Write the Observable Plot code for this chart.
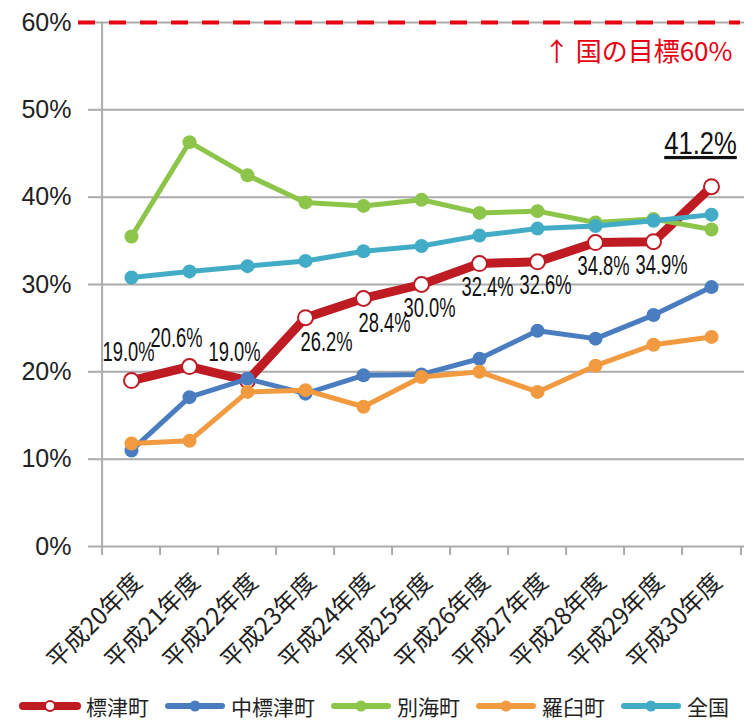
<!DOCTYPE html>
<html>
<head>
<meta charset="utf-8">
<script src="https://cdn.jsdelivr.net/npm/d3@7"></script>
<script src="https://cdn.jsdelivr.net/npm/@observablehq/plot@0.6"></script>
<style>
  html, body { margin: 0; padding: 0; background: #fff; }
  #chart { width: 756px; }
  .legend { display: flex; align-items: center; height: 28px; padding-left: 19px; gap: 15px;
    font-family: "Noto Sans CJK JP", sans-serif; font-size: 21px; color: #222; line-height: 1; }
  .legend .item { display: flex; align-items: center; gap: 5px; }
  .legend svg { display: block; }
</style>
</head>
<body>
<div id="chart"></div>
<script>
// ---- data ----
const years = ["平成20年度","平成21年度","平成22年度","平成23年度","平成24年度","平成25年度","平成26年度","平成27年度","平成28年度","平成29年度","平成30年度"];
const seriesNames = ["標津町","中標津町","別海町","羅臼町","全国"];
const shibetsu     = [19.0, 20.6, 19.0, 26.2, 28.4, 30.0, 32.4, 32.6, 34.8, 34.9, 41.2];
const nakashibetsu = [11.0, 17.1, 19.2, 17.5, 19.6, 19.7, 21.5, 24.7, 23.8, 26.5, 29.7];
const betsukai     = [35.5, 46.3, 42.5, 39.4, 39.0, 39.7, 38.2, 38.4, 37.1, 37.5, 36.3];
const rausu        = [11.8, 12.1, 17.7, 17.9, 16.0, 19.4, 20.0, 17.7, 20.7, 23.1, 24.0];
const zenkoku      = [30.8, 31.5, 32.1, 32.7, 33.8, 34.4, 35.6, 36.4, 36.7, 37.3, 38.0];
const yTicks = [0, 10, 20, 30, 40, 50, 60];
const targetValue = [60];
const targetLabel = ["↑ 国の目標60%"];

// ---- styles ----
const colors = ["#BE1B23", "#4A7DC0", "#8DC54B", "#F29A3F", "#42ABC6"];
const seriesValues = [shibetsu, nakashibetsu, betsukai, rausu, zenkoku];
const W = 756, H = 692, mL = 97, mR = 12, mT = 22, mB = 146;
const step = (W - mL - mR) / years.length;
const grid = "#ababab";
const labelFont = "'Liberation Sans',sans-serif";

const tidy = seriesValues.map((vals, s) => vals.map((v, i) => ({series: seriesNames[s], year: years[i], value: v, i})));

const marks = [
  Plot.gridY(yTicks, {stroke: grid, strokeOpacity: 1, strokeWidth: 2}),
  Plot.axisY(yTicks, {tickSize: 9, tickPadding: 17, tickFormat: d => d + "%", fontSize: 25, stroke: grid, strokeWidth: 2, fill: "#222", label: null}),
  Plot.ruleX([years[0]], {y1: 0, y2: 60, dx: -step / 2, stroke: grid, strokeWidth: 2}),
  Plot.axisX(years, {tickSize: 9, tickFormat: () => "", dx: -step / 2, stroke: grid, strokeWidth: 2, label: null}),
  Plot.axisX([years[years.length - 1]], {tickSize: 9, tickFormat: () => "", dx: step / 2, stroke: grid, strokeWidth: 2, label: null}),
  Plot.text(years, {x: d => d, frameAnchor: "bottom", rotate: -45, textAnchor: "end", lineAnchor: "bottom", dx: 12, dy: 37, fontSize: 24, fill: "#222", fontFamily: "'Noto Sans CJK JP',sans-serif"}),
  Plot.ruleY(targetValue, {stroke: "#E60012", strokeWidth: 4, strokeDasharray: "17,14", insetLeft: -19, insetRight: 4}),
  Plot.text(targetLabel, {frameAnchor: "top-right", lineAnchor: "middle", textAnchor: "end", dx: -12, dy: 30, fill: "#E60012", fontSize: 26, fontFamily: "'Noto Sans CJK JP',sans-serif"})
];

tidy.forEach((data, s) => {
  marks.push(Plot.line(data, {x: "year", y: "value", stroke: colors[s], strokeWidth: s === 0 ? 9 : 5, strokeLinejoin: "round"}));
  if (s === 0) {
    marks.push(Plot.dot(data, {x: "year", y: "value", r: 7.5, fill: "white", stroke: colors[s], strokeWidth: 2}));
  } else {
    marks.push(Plot.dot(data, {x: "year", y: "value", r: 7, fill: colors[s], stroke: "none"}));
  }
});

const red = tidy[0];
const fmt = d => d.value.toFixed(1) + "%";
const lbl = {x: "year", y: "value", text: fmt, fill: "#111", fontFamily: labelFont, lineAnchor: "middle", fontSize: 27};
marks.push(
  Plot.text(red, {...lbl, filter: d => d.i === 0, dx: -3, dy: -28}),
  Plot.text(red, {...lbl, filter: d => d.i === 1 || d.i === 2, dx: -13, dy: -28}),
  Plot.text(red, {...lbl, filter: d => d.i === 3 || d.i === 4, dx: 21, dy: 25}),
  Plot.text(red, {...lbl, filter: d => d.i >= 5 && d.i < 10, dx: 8, dy: 24}),
  Plot.text(red, {...lbl, filter: d => d.i === 10, dx: -11, dy: -43, fontSize: 32})
);

const chart = Plot.plot({
  width: W, height: H,
  marginLeft: mL, marginRight: mR, marginTop: mT, marginBottom: mB,
  style: {fontFamily: "'Liberation Sans',sans-serif", background: "white", color: "#222", overflow: "visible"},
  x: {type: "band", domain: years, padding: 0, axis: null},
  y: {domain: [0, 60], axis: null},
  marks
});
document.getElementById("chart").appendChild(chart);

// condensed look for the percentage labels (like Arial Narrow in the original)
d3.select(chart).selectAll("text").filter(function() { return /^\d+\.\d%$/.test(this.textContent); })
  .each(function() {
    const big = this.textContent === "41.2%";
    const w = this.getComputedTextLength();
    this.setAttribute("textLength", w * (big ? 0.8 : 0.68));
    this.setAttribute("lengthAdjust", "spacingAndGlyphs");
    if (big) { this.setAttribute("text-decoration", "underline"); this.style.textDecoration = "underline"; }
  });

// ---- legend ----
const legend = d3.select("#chart").append("div").attr("class", "legend");
seriesNames.forEach((name, s) => {
  const item = legend.append("div").attr("class", "item");
  const sv = item.append("svg").attr("width", 62).attr("height", 16);
  sv.append("line").attr("x1", 4).attr("x2", 58).attr("y1", 8).attr("y2", 8)
    .attr("stroke", colors[s]).attr("stroke-width", s === 0 ? 8 : 6).attr("stroke-linecap", "round");
  sv.append("circle").attr("cx", 31).attr("cy", 8).attr("r", s === 0 ? 5 : 5.5)
    .attr("fill", s === 0 ? "white" : colors[s]).attr("stroke", s === 0 ? colors[s] : "none").attr("stroke-width", 2);
  item.append("span").text(name);
});
</script>
</body>
</html>
